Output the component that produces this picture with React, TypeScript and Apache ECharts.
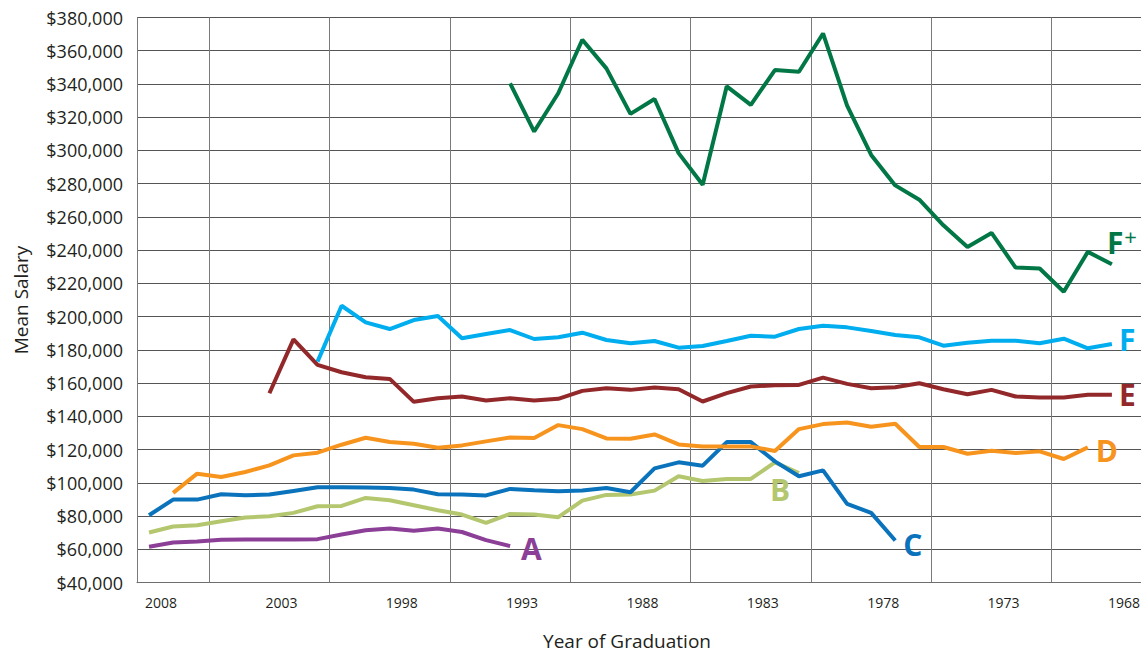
import React, { useEffect, useRef } from "react";
import * as echarts from "echarts";

// Category axis: year of graduation (plotted newest to oldest)
const years = [
  "2008", "2007", "2006", "2005", "2004", "2003", "2002", "2001", "2000", "1999",
  "1998", "1997", "1996", "1995", "1994", "1993", "1992", "1991", "1990", "1989",
  "1988", "1987", "1986", "1985", "1984", "1983", "1982", "1981", "1980", "1979",
  "1978", "1977", "1976", "1975", "1974", "1973", "1972", "1971", "1970", "1969",
  "1968",
];

const yMin = 40000;
const yMax = 380000;
const yStep = 20000;

// Mean salary per grade group, starting at the given year
const aStart = "2008";
const aValues = [61600, 64200, 64800, 65800, 66000, 66000, 66000, 66200, 69000, 71600, 72600, 71200, 72600, 70500, 65600, 62000];

const bStart = "2008";
const bValues = [70200, 73800, 74600, 77000, 79200, 80000, 82000, 86000, 86200, 91000, 89600, 86600, 83600, 81000, 76000, 81400, 81000, 79400, 89400, 92800, 93000, 95400, 104000, 101200, 102400, 102400, 112400, 106000];

const cStart = "2008";
const cValues = [80600, 90000, 90000, 93200, 92600, 93000, 95200, 97400, 97400, 97200, 97000, 96000, 93200, 93000, 92500, 96400, 95600, 95000, 95400, 97000, 94400, 108800, 112400, 110400, 124600, 124600, 113000, 104000, 107600, 87400, 82000, 65400];

const dStart = "2007";
const dValues = [94000, 105600, 103600, 106600, 110600, 116600, 118200, 123000, 127200, 124600, 123600, 121200, 122600, 125000, 127400, 127000, 134800, 132400, 126800, 126600, 129200, 123200, 122000, 122000, 122000, 119200, 132400, 135400, 136400, 133800, 135600, 121600, 121600, 117600, 119400, 118000, 119000, 114400, 121400];

const eStart = "2003";
const eValues = [154000, 186400, 171000, 166600, 163600, 162600, 148800, 151000, 152000, 149600, 151000, 149600, 150600, 155400, 157000, 156000, 157400, 156400, 149000, 154000, 158000, 158800, 159000, 163400, 159600, 157000, 157600, 160000, 156400, 153400, 156000, 152000, 151400, 151400, 153000, 153000];

const fStart = "2001";
const fValues = [173000, 206600, 196600, 192600, 198000, 200400, 187000, 189600, 192000, 186600, 187600, 190400, 186000, 184000, 185400, 181400, 182400, 185400, 188600, 188000, 192600, 194600, 193600, 191400, 189000, 187600, 182600, 184400, 185600, 185600, 184000, 186800, 181000, 183600];

const fPlusStart = "1993";
const fPlusValues = [340400, 311400, 334400, 366600, 349400, 322000, 331000, 298400, 279400, 338600, 327400, 348400, 347400, 370400, 327000, 297300, 279000, 270400, 255000, 242000, 250400, 229600, 229000, 215000, 239000, 231600];

const categories = [...years, ""];

function place(start: string, values: number[]) {
  const s = years.indexOf(start);
  return categories.map((_, k) => (k >= s && k - s < values.length ? values[k - s] : "-"));
}

const FONT = "'Open Sans', 'Noto Sans', sans-serif";
const TEXT = "#231f20";

type Spec = {
  name: string;
  label: string;
  start: string;
  values: number[];
  color: string;
  offset: [number, number];
};

const specs: Spec[] = [
  { name: "A", label: "A", start: aStart, values: aValues, color: "#8c3f97", offset: [3, 2] },
  { name: "B", label: "B", start: bStart, values: bValues, color: "#b4c76f", offset: [-37, 17] },
  { name: "C", label: "C", start: cStart, values: cValues, color: "#0a73bb", offset: [0, 4] },
  { name: "D", label: "D", start: dStart, values: dValues, color: "#f7941e", offset: [0, 3] },
  { name: "E", label: "E", start: eStart, values: eValues, color: "#92282a", offset: [-1, 0] },
  { name: "F", label: "F", start: fStart, values: fValues, color: "#00adee", offset: [-1, -4] },
  { name: "F+", label: "{f|F}{p|+}", start: fPlusStart, values: fPlusValues, color: "#027746", offset: [-13, -22] },
];

export default function App() {
  const ref = useRef<HTMLDivElement>(null);

  useEffect(() => {
    if (!ref.current) return;
    const chart = echarts.init(ref.current, undefined, { renderer: "svg" });

    const series = specs.map((s, idx) => ({
      name: s.name,
      type: "line",
      data: place(s.start, s.values),
      symbol: "none",
      z: 2 + idx,
      lineStyle: { color: s.color, width: 4 },
      itemStyle: { color: s.color },
      emphasis: { disabled: true },
      endLabel: {
        show: true,
        formatter: s.label,
        color: s.color,
        fontFamily: FONT,
        fontWeight: "bold",
        fontSize: 30,
        offset: s.offset,
        rich: {
          f: { color: s.color, fontFamily: FONT, fontWeight: "bold", fontSize: 30 },
          p: { color: s.color, fontFamily: FONT, fontWeight: "normal", fontSize: 22, verticalAlign: "top", padding: [0, 0, 12, 1] },
        },
      },
    }));

    chart.setOption({
      animation: false,
      backgroundColor: "#ffffff",
      grid: { left: 137, right: 0, top: 17.5, bottom: 77.3, containLabel: false },
      xAxis: {
        type: "category",
        data: categories,
        boundaryGap: true,
        axisLine: { show: true, lineStyle: { color: "#6e6e6e", width: 1 } },
        axisTick: { show: false },
        axisLabel: {
          interval: (i: number) => i % 5 === 0 && i < years.length,
          color: TEXT,
          fontFamily: FONT,
          fontSize: 14,
          margin: 13,
          padding: [0, 0, 0, 24],
        },
        splitLine: {
          show: true,
          interval: (i: number) => i % 5 === 3,
          lineStyle: { color: "#7a7a7a", width: 1 },
        },
      },
      yAxis: {
        type: "value",
        min: yMin,
        max: yMax,
        interval: yStep,
        axisLine: { show: true, lineStyle: { color: "#7a7a7a", width: 1 } },
        axisTick: { show: false },
        axisLabel: {
          color: TEXT,
          fontFamily: FONT,
          fontSize: 18,
          margin: 14,
          padding: [5, 0, 0, 0],
          formatter: (v: number) => "$" + v.toLocaleString("en-US"),
        },
        splitLine: { show: true, lineStyle: { color: "#555555", width: 1 } },
      },
      graphic: [
        {
          type: "text",
          x: 627,
          y: 641,
          style: {
            text: "Year of Graduation",
            fill: TEXT,
            font: `19px ${FONT}`,
            textAlign: "center",
            textVerticalAlign: "middle",
          },
        },
        {
          type: "text",
          x: 21,
          y: 300,
          rotation: Math.PI / 2,
          style: {
            text: "Mean Salary",
            fill: TEXT,
            font: `19px ${FONT}`,
            textAlign: "center",
            textVerticalAlign: "middle",
          },
        },
      ],
      series,
    });

    return () => chart.dispose();
  }, []);

  return (
    <div style={{ position: "absolute", left: 0, top: 0, width: 1141, height: 660, overflow: "hidden" }}>
      <div ref={ref} style={{ width: 1148, height: 660 }} />
    </div>
  );
}
